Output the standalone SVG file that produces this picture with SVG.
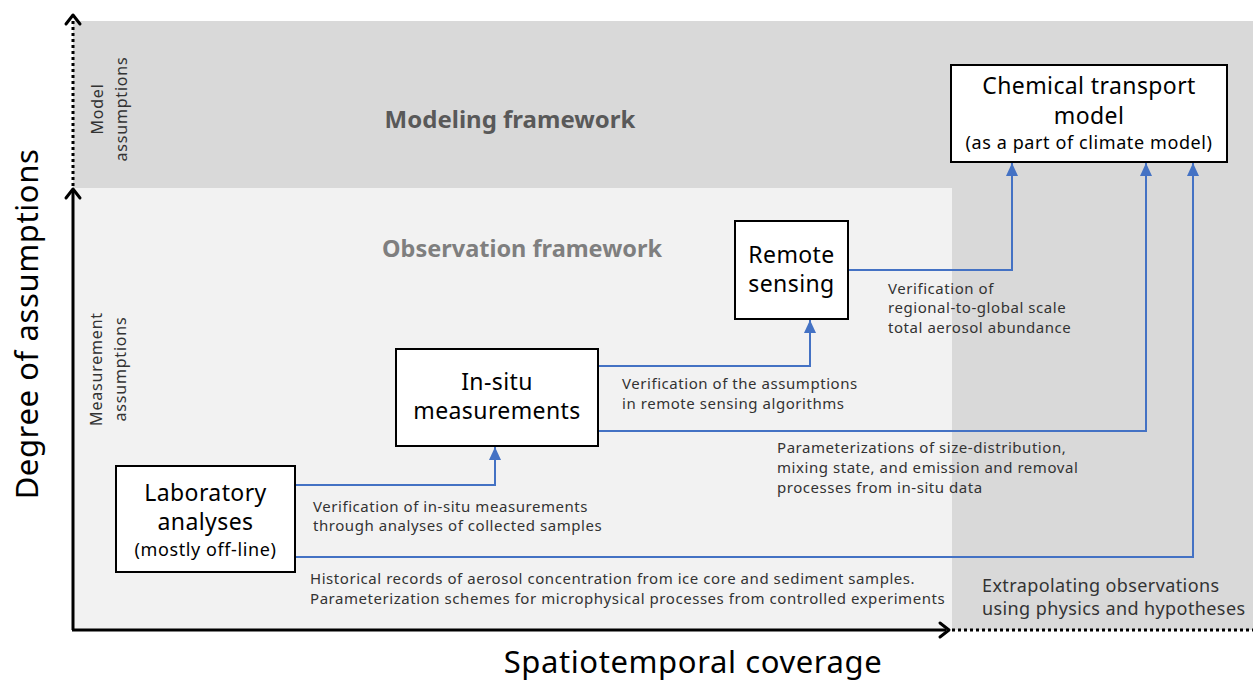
<svg xmlns="http://www.w3.org/2000/svg" width="1253" height="680" viewBox="0 0 1253 680">
  <style>
    .t { font-family: "Noto Sans", "Noto Sans CJK JP", sans-serif; fill: #262626; }
    .box { fill: #ffffff; stroke: #000000; stroke-width: 2; }
    .bt { font-size: 23px; letter-spacing: 0.4px; text-anchor: middle; fill: #000; }
    .bs { font-size: 18px; letter-spacing: 0.6px; text-anchor: middle; fill: #000; }
    .lbl { font-size: 15px; fill: #333; letter-spacing: 0.55px; }
    .side { font-size: 16px; fill: #333; text-anchor: middle; letter-spacing: 0.8px; }
    .conn { fill: none; stroke: #4472c4; stroke-width: 2; }
    .axis { fill: none; stroke: #000; stroke-width: 3; }
    .dot { fill: none; stroke: #000; stroke-width: 3; stroke-dasharray: 3 3; }
    .head { fill: none; stroke: #000; stroke-width: 3; stroke-linecap: round; stroke-linejoin: round; }
  </style>
  <defs>
    <marker id="blueArrow" viewBox="0 0 13 12" refX="13" refY="6" markerWidth="13" markerHeight="12" markerUnits="userSpaceOnUse" orient="auto">
      <path d="M0,0 L13,6 L0,12 Z" fill="#4472c4"/>
    </marker>
  </defs>

  <!-- background bands -->
  <rect x="73" y="21" width="1180" height="609" fill="#d9d9d9"/>
  <rect x="73" y="188" width="879" height="442" fill="#f2f2f2"/>

  <!-- axes -->
  <g id="axes">
    <line class="dot" x1="73" y1="186" x2="73" y2="18"/>
    <path class="head" d="M66,24 L73,15 L80,24"/>
    <line class="axis" x1="73" y1="630" x2="73" y2="190"/>
    <path class="head" d="M66,198 L73,189 L80,198"/>
    <line class="axis" x1="72" y1="630" x2="946" y2="630"/>
    <path class="head" d="M940,623 L949,630 L940,637"/>
    <line class="dot" x1="952" y1="630" x2="1253" y2="630"/>
    <text class="t" x="28" y="324" font-size="31" letter-spacing="0.6" text-anchor="middle" transform="rotate(-90 28 324)" dy="10" style="fill:#000">Degree of assumptions</text>
    <text class="t" x="693" y="673" font-size="31" letter-spacing="0.6" text-anchor="middle" style="fill:#000">Spatiotemporal coverage</text>
  </g>

  <!-- framework titles and side labels -->
  <text class="t" x="510" y="128" font-size="24" font-weight="bold" text-anchor="middle" style="fill:#595959">Modeling framework</text>
  <text class="t" x="522" y="257" font-size="23.5" font-weight="bold" text-anchor="middle" style="fill:#7f7f7f">Observation framework</text>
  <g transform="translate(110,109) rotate(-90)">
    <text class="t side" x="0" y="-7">Model</text>
    <text class="t side" x="0" y="17">assumptions</text>
  </g>
  <g transform="translate(110,369) rotate(-90)">
    <text class="t side" x="0" y="-8">Measurement</text>
    <text class="t side" x="0" y="16">assumptions</text>
  </g>

  <!-- connectors -->
  <g id="connectors">
    <path class="conn" d="M848,270 H1012 V163" marker-end="url(#blueArrow)"/>
    <path class="conn" d="M598,366 H810 V320" marker-end="url(#blueArrow)"/>
    <path class="conn" d="M598,431 H1146 V163" marker-end="url(#blueArrow)"/>
    <path class="conn" d="M295,485 H495 V447" marker-end="url(#blueArrow)"/>
    <path class="conn" d="M295,557 H1193 V163" marker-end="url(#blueArrow)"/>
  </g>

  <!-- connector labels -->
  <g id="labels">
    <text class="t lbl" x="888" y="294">Verification of</text>
    <text class="t lbl" x="888" y="313">regional-to-global scale</text>
    <text class="t lbl" x="888" y="333">total aerosol abundance</text>
    <text class="t lbl" x="622" y="389">Verification of the assumptions</text>
    <text class="t lbl" x="622" y="409">in remote sensing algorithms</text>
    <text class="t lbl" x="777" y="453">Parameterizations of size-distribution,</text>
    <text class="t lbl" x="777" y="473">mixing state, and emission and removal</text>
    <text class="t lbl" x="777" y="493">processes from in-situ data</text>
    <text class="t lbl" x="313" y="512">Verification of in-situ measurements</text>
    <text class="t lbl" x="313" y="531">through analyses of collected samples</text>
    <text class="t lbl" x="310" y="584">Historical records of aerosol concentration from ice core and sediment samples.</text>
    <text class="t lbl" x="310" y="604">Parameterization schemes for microphysical processes from controlled experiments</text>
    <text class="t" x="982" y="592" font-size="18" letter-spacing="0.4" style="fill:#333">Extrapolating observations</text>
    <text class="t" x="982" y="615" font-size="18" letter-spacing="0.4" style="fill:#333">using physics and hypotheses</text>
  </g>

  <!-- nodes -->
  <g id="ctm">
    <rect class="box" x="951" y="65" width="276" height="97"/>
    <text class="t bt" x="1089" y="94">Chemical transport</text>
    <text class="t bt" x="1089" y="124">model</text>
    <text class="t bs" x="1089" y="149">(as a part of climate model)</text>
  </g>
  <g id="remote">
    <rect class="box" x="735" y="221" width="113" height="98"/>
    <text class="t bt" x="791.5" y="263">Remote</text>
    <text class="t bt" x="791.5" y="292">sensing</text>
  </g>
  <g id="insitu">
    <rect class="box" x="396" y="349" width="202" height="97"/>
    <text class="t bt" x="497" y="390">In-situ</text>
    <text class="t bt" x="497" y="419">measurements</text>
  </g>
  <g id="lab">
    <rect class="box" x="116" y="466" width="179" height="106"/>
    <text class="t bt" x="205.5" y="501">Laboratory</text>
    <text class="t bt" x="205.5" y="530">analyses</text>
    <text class="t bs" x="205.5" y="556">(mostly off-line)</text>
  </g>
</svg>
